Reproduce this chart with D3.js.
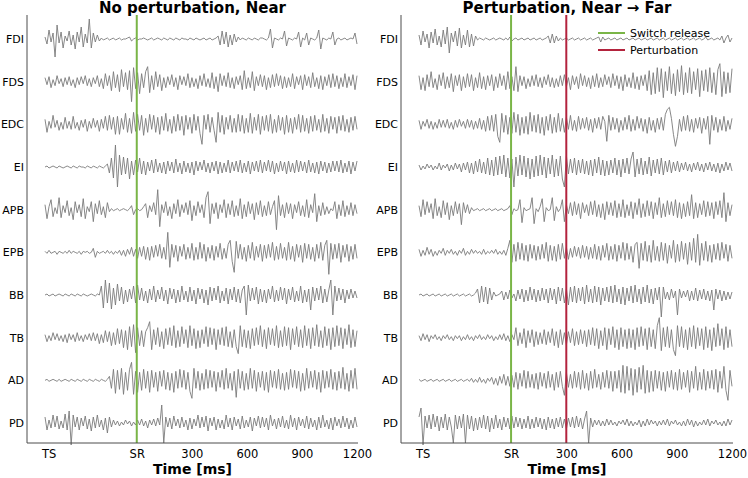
<!DOCTYPE html>
<html>
<head>
<meta charset="utf-8">
<script src="https://cdn.jsdelivr.net/npm/d3@7"></script>
<style>
  body { margin: 0; background: #ffffff; }
  svg { display: block; font-family: "DejaVu Sans", Verdana, sans-serif; }
</style>
</head>
<body>
<div id="chart"></div>
<script>
const muscles = ["FDI", "FDS", "EDC", "EI", "APB", "EPB", "BB", "TB", "AD", "PD"];
const tickTimes = [-480, 0, 300, 600, 900, 1200];
const tickLabels = ["TS", "SR", "300", "600", "900", "1200"];
const traceSpanMs = [-500, 1200];
const switchReleaseMs = 0;
const perturbationMs = 300;
const panelTitles = ["No perturbation, Near", "Perturbation, Near \u2192 Far"];
const legendLabels = ["Switch release", "Perturbation"];

// EMG amplitudes, one sample every ~11 ms (arbitrary units)
const nearFDI = [2,-5,9,-3,6,-18,14,-4,7,-9,3,-2, 8,-6,4,-10,7,-3,12,-8,5,-4,20,-9, 6,-3,4,-2,1,-1,0,1,-1,0,1,-1, 0,1,-1,0,0,1,2,-2,0,1,-1,0, 0,1,0,-1,0,1,-1,0,1,0,-1,1, 0,-1,1,0,-1,1,0,-1,1,0,0,-1, 1,0,-1,1,0,-1,0,1,-1,0,1,-1, 0,1,3,-6,8,-5,7,-8,4,-6,5,-3, 2,-1,1,0,-1,1,0,-1,1,0,-1,1, 1,0,-1,1,10,-9,1,0,-1,1,0,8, -7,1,0,-1,1,0,7,-8,1,-1,6,-6, 1,0,-1,1,9,-10,1,0,-1,1,0,7, -6,0,1,-1,0,1,-1,0,1,0,6,-5];
const nearFDS = [4,-3,5,-6,2,-4,6,-2,3,-5,4,-3, 5,-4,2,-6,4,-3,5,-2,6,-4,3,-5, 4,-2,6,-5,3,-7,8,-4,6,-9,10,-6, 7,-10,12,-5,9,-8,11,-20,14,-7,9,-12, 8,-6,10,15,-11,6,-8,10,-5,7,-9,4, -6,5,-3,7,-5,4,-8,6,-3,5,-4,8, -6,4,-5,3,-7,6,-4,8,-5,3,-6,9, -7,5,-10,8,-4,6,-5,9,-6,4,-7,5, -3,6,-8,11,-7,4,-6,10,-9,5,-4,7, -5,6,-8,4,-6,7,-5,8,-4,6,-7,5, -6,4,-5,8,-7,5,-3,6,-8,7,-4,5, -6,9,-5,4,-7,6,-8,5,-4,7,-6,8, -5,6,-7,4,-5,8,-6,5,-4,7,-8,6];
const nearEDC = [5,-8,3,-4,9,-3,4,-6,2,-5,7,-4, 3,-5,8,-4,2,-6,4,-3,5,-7,3,-4, 6,-3,4,-7,5,-4,8,-6,9,-5,7,-10, 8,-10,6,-5,11,-8,6,-9,12,-7,10,-6, 9,-11,6,-8,10,-5,9,-8,7,-10,8,-6, 11,-7,5,-9,8,-7,10,-6,8,-11,9,-5, 7,-9,10,-6,8,-9,-20,9,-5,10,-8,7, -6,-18,12,-8,9,-10,7,-5,9,-8,6,-8, 10,-7,9,-9,6,-8,11,-9,7,-6,10,-10, 8,-6,9,-7,10,-9,5,-8,9,-6,7,-10, 9,-8,6,-9,7,-5,10,-8,9,-7,6,-9, 8,-7,9,-6,5,-8,10,-7,6,-9,8,-5, 7,-9,8,-6,9,-7,5,-8,7,-6,8,-5];
const nearEI = [0,1,-1,0,1,0,-1,1,0,-1,0,1, 0,-1,1,0,-1,1,0,0,-1,1,0,-1, 1,0,-1,1,0,-1,1,3,-6,9,-11,22, -20,12,-8,10,-7,9,-12,6,-8,7,-5,9, -7,6,-8,5,-4,7,-6,8,-5,4,-6,5, -7,6,-4,5,-6,8,-5,4,-7,6,-5,4, -6,5,-8,6,-4,5,-3,7,-5,4,-6,5, -4,6,-7,5,-6,4,-5,7,-6,5,-4,6, -5,7,-6,4,-5,6,-7,5,-4,6,-5,7, -6,5,-4,7,-5,6,-7,4,-5,6,-4,5, -7,6,-5,4,-6,7,-5,6,-4,5,-6,7, -5,4,-6,5,-7,6,-4,5,-6,4,-5,6, -4,6,-5,7,-6,4,-5,6,-7,5,-4,6];
const nearAPB = [5,-9,3,10,-7,2,-4,12,-8,4,-3,9, -6,2,-10,8,-3,5,-7,11,-9,3,-2,8, -12,6,-4,9,-5,3,-8,7,-2,1,-1,0, 1,-1,0,1,0,-1,1,4,-5,0,1,-1, 0,3,6,-8,4,-2,7,-5,20,-17,5,-3, 8,-6,3,-9,6,-4,10,-7,5,-3,7,-5, 9,-11,4,-6,8,-3,5,-8,12,18,-14,6, -4,7,-9,5,-3,10,-8,6,-5,9,-7,4, -6,11,-9,5,-7,8,-4,6,-10,7,-5,9, -7,4,-6,8,-5,3,9,-20,14,-6,5,-8, 7,-4,6,-9,5,-3,8,-6,4,-7,10,-8, 5,-3,16,-12,4,-6,7,-5,3,-4,1,-1, 8,-9,5,-6,9,-7,4,-5,7,-6,5,-4];
const nearEPB = [1,-1,2,-1,0,1,-2,1,0,-1,1,-1, 2,-1,1,0,-1,1,-2,1,0,1,-1,0, 4,-5,1,-1,0,1,-1,2,-1,1,-2,1, -1,2,-3,2,-4,3,-2,5,-4,3,-6,5, -4,6,-7,5,-8,6,-5,7,-4,8,-6,5, -7,20,-15,8,-5,7,-9,6,-4,8,-7,5, -6,9,-8,5,-7,10,-6,8,-9,5,-6,7, -8,6,-5,9,-7,4,-6,8,12,-9,-20,11, -6,8,-7,5,-9,7,-6,10,-8,6,-5,8, -9,7,-6,8,-5,10,-8,6,-7,9,-6,5, -8,10,-7,6,-9,8,-5,7,-10,9,-6,8, -7,5,-9,8,-6,10,-8,7,12,-22,9,-7, 8,-6,9,-10,7,-5,8,-9,6,-7,8,-6];
const nearBB = [0,1,-1,0,1,-1,0,1,0,-1,1,0, -1,1,0,-1,1,0,-1,1,0,-1,0,1, 0,-1,1,0,9,-13,15,-8,12,-14,7,-10, 11,-6,8,-9,5,-7,6,-4,9,-8,10,-5, 7,-6,4,-8,6,-5,9,-7,5,-4,8,-6, 5,-9,7,-4,6,-8,5,-7,9,-5,4,-7, 8,-6,5,-9,7,-4,6,-8,5,-10,8,-6, 7,-5,9,-8,4,-6,7,-9,6,-5,8,-7, 6,-8,5,9,-20,10,-6,7,-5,8,-9,6, -7,5,-8,6,-4,9,-7,5,-6,8,-5,7, -9,6,-5,8,-7,4,-6,9,-8,5,-7,6, -15,8,-6,7,-5,9,-8,6,-7,5,15,-20, 9,-6,7,-5,6,-8,5,-4,6,-3,4,-3];
const nearTB = [3,-4,2,-3,5,-2,4,-3,2,-4,3,-5, 4,-2,3,-4,5,-3,2,-4,3,-2,4,-3, 5,-3,4,-6,3,-5,7,-4,6,-8,5,-7, 9,-6,8,-10,7,-12,11,-9,13,-15,10,-8, 7,-9,6,10,16,-12,8,-7,10,-9,6,-11, 9,-7,10,-8,12,-10,7,-9,11,-6,8,-10, 12,-8,9,-11,7,-10,8,-6,11,-9,10,-7, 9,-12,8,-7,10,-8,11,-9,6,-10,8,-9, -16,12,-9,8,-10,7,-11,9,-8,10,-7,12, -9,8,-11,10,-7,9,-8,12,-10,7,-9,11, -8,10,-12,9,-7,11,-9,8,-10,12,-8,9, -11,10,-8,13,-9,7,-10,11,-8,9,-12,10, -9,12,-8,10,-11,9,-7,13,-10,8,-9,7];
const nearAD = [0,1,-1,0,1,0,-1,1,-1,0,1,0, -1,1,0,-1,1,0,-1,1,0,-1,1,0, -1,1,0,-1,1,0,-1,1,4,-8,11,-13, 10,-9,12,-14,8,-10,11,18,-14,9,-12,8, -10,11,-8,9,-12,10,-7,8,-11,9,-6,10, -9,8,-10,7,-12,9,-8,11,-7,10,-9,8, -11,-18,12,-8,9,-10,7,-9,11,-8,10,-7, 9,-11,8,-7,10,-9,12,-8,7,-10,9,-17, 11,-8,9,-10,7,-9,12,-8,10,-11,8,-7, 9,-10,8,-12,10,-7,9,-8,11,-9,7,-10, 8,-9,11,-7,10,-8,9,-11,7,-10,12,-8, 9,-7,10,-9,8,-12,10,-8,9,-7,11,-9, 8,-10,9,-8,13,-9,7,-11,10,-8,12,-9];
const nearPD = [6,-7,3,-5,8,-4,7,-6,2,-5,9,-7, 12,-22,8,-4,6,-7,5,-3,7,-6,4,-8, 6,-5,8,-4,3,-7,5,-10,6,-4,3,-2, 2,-3,1,-2,3,-1,2,-3,1,-2,3,-2, 4,-3,2,-5,3,-2,4,-3,5,-2,18,-20, 6,-4,5,-6,7,-3,4,-5,6,-4,3,-7, 5,-6,4,-3,8,-5,6,-4,7,-8,5,-3, 6,-7,4,-5,3,-6,8,-4,5,-7,6,-3, 4,-6,7,-5,3,-4,6,-8,5,-3,7,-5, 6,-4,5,-7,8,-3,4,-6,5,-4,7,-5, 3,-6,8,-4,5,-7,6,-3,4,-5,7,-6, 5,-4,3,-7,6,-5,8,-4,3,-6,5,-7, 6,-3,4,-5,7,-4,5,-6,3,-5,6,-4];

const farFDI = [4,-6,8,-3,5,-9,7,-4,10,-6,3,-8, 9,-5,12,-14,6,-3,8,-7,11,-9,4,-6, 9,-8,5,-7,3,-1,1,0,-1,1,0,-1, 0,1,-1,0,1,0,-1,1,-1,2,-2,0, 1,-1,0,1,-1,0,1,-1,0,1,-1,0, 1,-1,0,1,3,-4,5,-4,3,-2,1,-1, 0,1,-1,0,1,-1,0,1,-1,0,1,-1, 0,1,-1,0,1,2,-3,2,-1,0,1,-1, 0,1,-1,0,1,-1,0,1,-1,0,1,-1, 0,1,-1,0,1,-1,0,1,-1,0,1,-1, 0,1,-1,0,1,-1,0,1,-1,0,1,-1, 0,1,-1,0,1,-1,0,1,-1,0,2,-1, 0,1,-1,0,1,-1,3,-4,1,4,-3,1];
const farFDS = [6,-8,4,-9,7,-5,10,-6,3,-8,7,-4, 9,-7,5,-6,8,-10,6,-4,7,-9,5,-6, 8,-5,7,-9,4,-6,9,-7,5,-8,6,-4, 7,-9,5,-6,8,-4,6,-8,10,-7,5,-9, 15,-10,6,-4,5,-7,3,-5,6,-4,7,-5, 4,-6,5,-3,7,-5,4,-6,3,-5,6,-4, 7,-5,4,-8,6,-3,5,-7,8,-4,6,-5, 4,-7,6,-5,8,-6,4,-5,7,-3,5,-6, 8,-4,6,-7,5,-9,7,-5,4,-6,9,-7, 5,-8,6,-4,7,-9,11,-13,9,-12,14,-10, 13,-16,10,-9,15,-12,8,-14,12,-10,16,-13, 9,-11,14,-12,10,-8,13,-15,11,-9,12,-10, 14,-11,9,-13,12,18,-15,10,-12,9,-11,13];
const farEDC = [4,-5,3,-2,5,-4,3,-5,2,-4,5,-3, 4,-3,5,-4,2,-5,4,-3,5,-2,3,-4, 5,-3,4,-5,3,-4,6,-5,4,-7,8,-6, 9,-7,10,-12,-18,11,-8,9,-10,7,-9,12, -8,10,-11,7,-9,8,-10,12,-7,9,-8,10, -9,7,-11,8,-6,10,-9,7,-8,11,-7,6, -8,7,-5,9,-6,4,-7,8,-5,6,-4,7, -6,5,-8,6,-4,7,-5,8,3,-17,9,-6, 7,-5,6,-8,4,-6,7,-5,9,-7,5,-6, 8,-4,6,-7,5,-9,7,-6,4,-8,6,-5, 7,-6,10,15,17,6,-10,-22,-12,5,-7,8, -6,9,-7,5,-8,6,-4,7,-9,6,-5,8, -20,9,-6,7,-8,5,-6,8,-7,4,-5,6];
const farEI = [2,-3,1,-2,3,-1,2,-3,1,-2,4,-3, 2,-1,3,-4,2,-3,4,-2,3,-5,4,-3, 5,-6,4,-7,6,-5,8,-6,5,-7,9,-8, 7,-9,10,-8,11,-7,12,-10,9,-11,8,-20, 10,-9,12,-8,11,-10,9,-12,8,-10,11,-9, 12,-8,10,-11,9,-7,12,-10,8,-9,11,-12, -20,11,-7,8,-6,9,-8,7,-6,8,-7,6, -8,7,-9,8,-6,10,-8,7,-9,6,-8,7, -6,9,-8,7,-10,8,-6,9,-7,8,15,-10, 8,-7,9,-8,6,-7,10,-9,7,-6,8,-7, 9,-8,6,-5,7,-6,5,-4,6,-5,4,-3, 5,-4,3,-5,4,-3,5,-4,3,-5,4,-3, 5,-4,3,-5,4,-6,3,-4,5,-3,4,-4];
const farAPB = [4,-7,10,-5,8,-3,6,-9,11,-6,3,-8, 9,-5,7,-10,4,-6,8,-4,6,-15,7,-3, 5,-4,2,-1,0,1,-1,0,1,-1,0,1, -1,0,1,-1,0,1,-1,0,1,4,-5,1, -1,0,10,-13,2,-1,0,1,12,-14,1,-2, 3,11,-12,2,-1,0,12,-11,3,-2,1,10, -12,5,-4,7,-6,8,-5,6,-9,7,-3,5, -6,8,-5,9,-7,5,-8,6,-10,8,-5,7, -6,9,-8,6,-7,10,-8,5,-6,8,-9,7, -5,11,-8,6,-7,9,-6,8,-9,7,-5,12, -8,6,-7,9,-5,8,-6,10,-8,7,-9,6, -7,8,-6,15,-9,7,-8,6,-5,9,-7,8, -6,7,-9,8,-5,9,-8,17,-12,7,-6,5];
const farEPB = [3,-4,2,-3,5,-2,3,-4,1,-3,2,-1, 4,-3,2,-1,3,-2,1,-3,2,-1,4,-3, 1,-2,3,-1,2,-1,1,-2,3,-2,1,-1, 2,-1,3,-2,1,-2,2,-3,4,12,-10,8, -9,10,-7,9,-8,7,-9,8,-6,7,-8,6, -7,8,-6,10,-9,7,-8,6,-9,8,-7,9, -6,5,-7,4,-5,6,-4,5,-6,7,-5,6, -7,5,-6,8,-7,6,-8,7,-5,9,-8,6, -7,8,-9,7,-6,10,-8,9,-7,6,-10,8, 10,-16,9,-8,11,-9,7,-10,12,-8,6,-9, 10,-8,9,-11,7,-6,12,-10,8,-9,11,-7, 9,-12,10,-8,14,-10,18,-13,9,-8,11,-9, 7,-10,8,-7,9,-8,10,-6,8,-9,7,-6];
const farBB = [0,1,-1,0,1,-1,0,1,-1,0,1,-1, 0,1,-1,0,1,-1,0,1,-1,0,1,-1, 0,1,-1,0,2,6,-8,9,-7,8,-9,7, -5,3,-1,0,1,4,-5,3,-4,5,-3,1, -6,5,-4,6,-7,5,-6,8,-5,6,-7,5, -6,7,-5,6,-8,7,-5,6,-9,8,-6,7, -8,6,-10,8,-7,9,-8,7,-6,8,-9,10, -7,6,-8,9,-7,8,-10,7,-6,8,-7,9, -8,10,-7,6,-9,8,-10,7,-6,9,-8,10, -7,6,-9,8,-7,10,-8,6,-9,7,-5,8, -22,8,-4,3,-5,6,-3,4,-20,6,-3,4, -2,5,-6,4,-5,7,-6,5,-4,6,-5,4, -6,5,-15,6,-4,5,-6,4,-5,3,-4,3];
const farTB = [2,-3,4,-2,3,-4,2,-1,3,-2,1,-3, 2,-1,3,-2,1,-3,2,-1,2,-3,1,-2, 3,-2,1,-3,2,-1,3,-2,1,-2,3,-1, 2,-3,1,-2,3,-2,4,-3,2,-4,3,-2, 10,-8,5,-6,9,-10,7,-5,8,-9,6,-7, 5,-6,8,-7,6,-5,9,-8,6,-10,8,-7, 5,-7,6,-5,9,-8,6,-7,8,-6,7,-9, 8,-7,10,-8,9,-11,7,-8,10,-12,9,-7, 11,-10,8,-12,10,-9,8,-11,9,-10,8,-12, 10,-9,11,-8,9,-12,10,-9,8,-11,12,20, -13,10,-9,11,-10,8,-12,-18,12,-9,11,-10, 8,-12,10,-9,12,-11,10,-8,9,-12,11,-10, 8,-13,10,-9,14,-8,9,-12,11,-10,8,-9];
const farAD = [1,-1,0,1,-1,0,1,-1,0,1,-1,0, 1,-1,0,1,-1,0,1,-1,0,1,-1,0, 1,-1,2,-2,1,-2,3,-2,1,-3,2,-1, 3,-4,2,-5,4,-3,6,-5,4,-6,5,-7, 8,-9,7,-6,10,-8,9,-7,6,-8,7,-9, 8,-6,7,-8,9,-7,6,-10,8,-7,9,-6, -15,8,-7,6,-8,9,-7,8,-9,10,-8,7, -10,9,-8,11,-7,6,-9,8,-7,10,-8,9, -11,9,-8,10,-12,15,-13,14,-10,12,-15,11, -12,13,-9,15,-13,10,-12,9,-11,10,-8,9, -10,8,-11,9,-7,10,-9,8,-10,11,-9,8, -7,10,-12,9,-8,14,-10,8,-9,11,-10,9, -8,10,-9,11,-12,9,-8,14,-10,-20,10,-6];
const farPD = [6,15,-22,7,-5,8,-6,9,-4,7,-8,6, -5,9,-7,6,-4,-20,8,-6,7,-5,9,-20, 8,-6,7,-8,5,-7,6,-5,8,-6,7,-9, 5,-6,8,-5,4,-7,6,-4,5,-6,7,-5, 6,-4,5,-6,4,-5,7,-6,4,-5,6,-4, 5,-6,4,-7,6,-5,4,-6,5,-4,6,-5, 4,-6,5,-4,6,-5,7,-4,5,-6,4,12, -20,5,-4,3,-2,3,-3,2,-3,4,-2,3, -2,1,-3,2,-1,3,-2,4,-3,2,-3,1, -2,3,-4,2,-3,4,-2,3,-1,2,-3,2, -2,3,-2,4,-3,2,-1,3,-2,1,-3,2, -3,4,-2,3,-4,2,-3,1,-2,3,-2,4, -3,2,-1,3,-2,1,-3,2,-3,4,-2,3];

const nearTraces = [nearFDI, nearFDS, nearEDC, nearEI, nearAPB, nearEPB, nearBB, nearTB, nearAD, nearPD];
const farTraces = [farFDI, farFDS, farEDC, farEI, farAPB, farEPB, farBB, farTB, farAD, farPD];

const palette = {
  ink: "#000000",
  axis: "#4d4d4d",
  trace: "#7a7a7a",
  release: "#7ab547",
  perturb: "#b3233d"
};

const width = 748;
const height = 478;
const plotTop = 15;
const plotBottom = 443;

const svg = d3.select("#chart")
  .append("svg")
  .attr("width", width)
  .attr("height", height);

const rowY = d3.scalePoint()
  .domain(muscles)
  .range([39, 423]);

const amp = d3.scaleLinear()
  .domain([-21, 21])
  .range([21, -21]);

function drawPanel(panel) {
  const x = d3.scaleLinear()
    .domain(traceSpanMs)
    .range([panel.left + 18, panel.right - 1]);

  const g = svg.append("g");

  // traces
  muscles.forEach((name, r) => {
    const values = panel.traces[r];
    const sampleX = d3.scaleLinear()
      .domain([0, values.length - 1])
      .range(x.range());
    const line = d3.line()
      .x((d, i) => sampleX(i))
      .y((d) => rowY(name) + amp(d));
    g.append("path")
      .datum(values)
      .attr("d", line)
      .attr("fill", "none")
      .attr("stroke", palette.trace)
      .attr("stroke-width", 0.9)
      .attr("stroke-linejoin", "round");

    g.append("text")
      .attr("x", panel.left - 3)
      .attr("y", rowY(name))
      .attr("dy", "0.35em")
      .attr("text-anchor", "end")
      .attr("font-size", 11)
      .attr("fill", palette.ink)
      .text(name);
  });

  // event lines
  panel.events.forEach((ev) => {
    g.append("line")
      .attr("x1", x(ev.ms))
      .attr("x2", x(ev.ms))
      .attr("y1", plotTop)
      .attr("y2", plotBottom)
      .attr("stroke", ev.color)
      .attr("stroke-width", 2);
  });

  // axes
  g.append("path")
    .attr("d", `M${panel.left},${plotTop}V${plotBottom}H${panel.right}`)
    .attr("fill", "none")
    .attr("stroke", palette.axis)
    .attr("stroke-width", 1);

  const axis = d3.axisBottom(x)
    .tickValues(tickTimes)
    .tickFormat((d, i) => tickLabels[i])
    .tickSize(0)
    .tickPadding(7);

  const ax = g.append("g")
    .attr("transform", `translate(0,${plotBottom})`)
    .call(axis);
  ax.select(".domain").remove();
  ax.selectAll("text")
    .attr("font-family", "DejaVu Sans, Verdana, sans-serif")
    .attr("font-size", 11.5)
    .attr("fill", palette.ink);

  g.append("text")
    .attr("x", (panel.left + panel.right) / 2)
    .attr("y", 474)
    .attr("text-anchor", "middle")
    .attr("font-size", 14)
    .attr("font-weight", "bold")
    .attr("fill", palette.ink)
    .text("Time [ms]");

  g.append("text")
    .attr("x", (panel.left + panel.right) / 2)
    .attr("y", 12.5)
    .attr("text-anchor", "middle")
    .attr("font-size", 15)
    .attr("font-weight", "bold")
    .attr("fill", palette.ink)
    .text(panel.title);
}

drawPanel({
  left: 27,
  right: 358,
  title: panelTitles[0],
  traces: nearTraces,
  events: [{ ms: switchReleaseMs, color: palette.release }]
});

drawPanel({
  left: 401,
  right: 733,
  title: panelTitles[1],
  traces: farTraces,
  events: [
    { ms: switchReleaseMs, color: palette.release },
    { ms: perturbationMs, color: palette.perturb }
  ]
});

// legend
const legend = svg.append("g").attr("transform", "translate(598,33)");
[palette.release, palette.perturb].forEach((color, i) => {
  legend.append("line")
    .attr("x1", 0)
    .attr("x2", 27)
    .attr("y1", i * 17)
    .attr("y2", i * 17)
    .attr("stroke", color)
    .attr("stroke-width", 2);
  legend.append("text")
    .attr("x", 32)
    .attr("y", i * 17)
    .attr("dy", "0.35em")
    .attr("font-size", 11)
    .attr("fill", palette.ink)
    .text(legendLabels[i]);
});
</script>
</body>
</html>
